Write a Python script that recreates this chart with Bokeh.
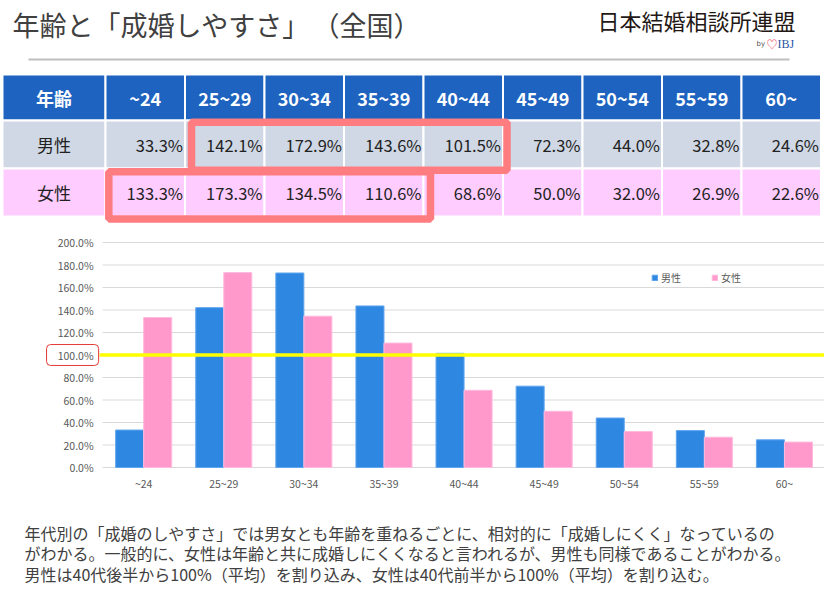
from bokeh.plotting import figure
from bokeh.models import Range1d, ColumnDataSource, PrintfTickFormatter, FixedTicker
from bokeh.transform import dodge
from bokeh.layouts import column
from bokeh.core.properties import value
from bokeh.embed import file_html
from bokeh.resources import INLINE

# ---------------- data ----------------
ages = ["~24", "25~29", "30~34", "35~39", "40~44", "45~49", "50~54", "55~59", "60~"]
male = [33.3, 142.1, 172.9, 143.6, 101.5, 72.3, 44.0, 32.8, 24.6]
female = [133.3, 173.3, 134.5, 110.6, 68.6, 50.0, 32.0, 26.9, 22.6]
series_names = ["男性", "女性"]
header_first = "年齢"
title_main = "年齢と「成婚しやすさ」"
title_sub = "（全国）"
logo_main = "日本結婚相談所連盟"
logo_by = "by"
logo_heart = "♡"
logo_ibj = "IBJ"
notes = [
    "年代別の「成婚のしやすさ」では男女とも年齢を重ねるごとに、相対的に「成婚しにくく」なっているの",
    "がわかる。一般的に、女性は年齢と共に成婚しにくくなると言われるが、男性も同様であることがわかる。",
    "男性は40代後半から100%（平均）を割り込み、女性は40代前半から100%（平均）を割り込む。",
]
y_ticks = [0, 20, 40, 60, 80, 100, 120, 140, 160, 180, 200]
reference_level = 100
male_highlight = (1, 4)     # highlighted age columns, male row
female_highlight = (0, 3)   # highlighted age columns, female row

# ---------------- style ----------------
W = 824
JP = "Noto Sans CJK JP"
BLUE_HDR = "#1e63bf"
MALE_BG = "#d0d8e5"
FEMALE_BG = "#ffccff"
HILITE = "#ff7c80"
BAR_M = "#2e88e2"
BAR_F = "#ff99cc"
TXT = "#404040"


def canvas(h, top):
    p = figure(width=W, height=h, x_range=Range1d(0, W), y_range=Range1d(top + h, top),
               x_axis_type=None, y_axis_type=None, toolbar_location=None,
               output_backend="svg", min_border=0, title=None)
    p.outline_line_color = None
    p.background_fill_color = "white"
    return p


# ---------------- header + table ----------------
top = canvas(228, 0)
top.text(x=[12], y=[24], text=[title_main], text_font=value(JP), text_font_size=value("27px"),
         text_color=TXT, text_baseline="middle", text_align="left")
top.text(x=[312], y=[24], text=[title_sub], text_font=value(JP), text_font_size=value("27px"),
         text_color=TXT, text_baseline="middle", text_align="left")
top.segment(x0=[28], y0=[59], x1=[789], y1=[59], line_color="#bfbfbf", line_width=2)
top.text(x=[795], y=[19], text=[logo_main], text_font=value(JP), text_font_size=value("22px"),
         text_color="#231815", text_baseline="middle", text_align="right")
top.text(x=[756], y=[43], text=[logo_by], text_font=value("DejaVu Sans"), text_font_size=value("7px"),
         text_color="#555555", text_baseline="middle", text_align="left")
top.text(x=[766], y=[43], text=[logo_heart], text_font=value(JP), text_font_size=value("11px"),
         text_color="#e8404f", text_baseline="middle", text_align="left")
top.text(x=[777], y=[43], text=[logo_ibj], text_font=value("Liberation Serif"), text_font_size=value("12px"),
         text_color="#2a55a5", text_baseline="middle", text_align="left")

first_l, first_r = 2, 105
col_w = 79.5
edges = [first_l, first_r] + [first_r + col_w * (i + 1) for i in range(len(ages))]
lefts = edges[:-1]
rights = edges[1:]
centers = [(a + b) / 2 for a, b in zip(lefts, rights)]

hdr = ColumnDataSource(dict(left=lefts, right=rights, xc=centers, label=[header_first] + ages))
top.quad(left="left", right="right", top=74, bottom=120, source=hdr,
         fill_color=BLUE_HDR, line_color="white", line_width=2)
top.text(x="xc", y=97, text="label", source=hdr, text_font=value(JP), text_font_size=value("18px"),
         text_font_style="bold", text_color="white", text_align="center", text_baseline="middle")

rows = [(series_names[0], male, MALE_BG, 120, 168), (series_names[1], female, FEMALE_BG, 168, 216)]
for name, vals, bg, y_top, y_bot in rows:
    src = ColumnDataSource(dict(left=lefts, right=rights))
    top.quad(left="left", right="right", top=y_top, bottom=y_bot, source=src,
             fill_color=bg, line_color="white", line_width=2)
    ym = (y_top + y_bot) / 2
    top.text(x=[centers[0]], y=[ym], text=[name], text_font=value(JP), text_font_size=value("17px"),
             text_color="#222222", text_align="center", text_baseline="middle")
    vsrc = ColumnDataSource(dict(x=[r - 2 for r in rights[1:]], label=[f"{v:.1f}%" for v in vals]))
    top.text(x="x", y=ym, text="label", source=vsrc, text_font=value(JP), text_font_size=value("16.5px"),
             text_color="#222222", text_align="right", text_baseline="middle")

# highlight frames
a, b = male_highlight
top.quad(left=[lefts[a + 1] + 6.5], right=[rights[b + 1] + 4], top=[121.7], bottom=[169.7],
         fill_alpha=0, line_color=HILITE, line_width=7.5)
a, b = female_highlight
top.quad(left=[lefts[a + 1] + 3.3], right=[rights[b + 1] + 7], top=[171.2], bottom=[218.5],
         fill_alpha=0, line_color=HILITE, line_width=7.5)

# ---------------- bar chart ----------------
px_per_unit = 1.125          # 225 px for 200 %
pad_top, pad_bot = 8, 6      # px of room for the end tick labels
xi = list(range(len(ages)))
src = ColumnDataSource(dict(xi=xi, age=ages, male=male, female=female))
ch = figure(width=W, height=267, x_range=Range1d(-1.7875, 8.5),
            y_range=Range1d(-pad_bot / px_per_unit, 200 + pad_top / px_per_unit),
            toolbar_location=None, output_backend="svg", title=None,
            min_border_left=0, min_border_right=0,
            min_border_top=14 - pad_top, min_border_bottom=28 - pad_bot)
ch.outline_line_color = None
ch.xgrid.visible = False
ch.ygrid.visible = False

grid_lo, grid_hi = -0.5125, 8.5
ch.segment(x0=grid_lo, x1=grid_hi, y0=y_ticks, y1=y_ticks, line_color="#d9d9d9", line_width=1)

ch.vbar(x=dodge("xi", -0.175), top="male", width=0.35, source=src,
        fill_color=BAR_M, line_color="#62a6ee", line_width=1, legend_label=series_names[0])
ch.vbar(x=dodge("xi", 0.175), top="female", width=0.35, source=src,
        fill_color=BAR_F, line_color="#ffbade", line_width=1, legend_label=series_names[1])

ch.segment(x0=[-0.55], x1=[8.5], y0=[reference_level], y1=[reference_level],
           line_color="#ffff00", line_width=3.5)
ch.quad(left=[-1.2125], right=[-0.5625], bottom=[reference_level - 9.3], top=[reference_level + 9.3],
        fill_alpha=0, line_color="#e53935", line_width=1, border_radius=4)

ch.yaxis.fixed_location = -0.5
ch.yaxis.ticker = FixedTicker(ticks=y_ticks)
ch.yaxis.formatter = PrintfTickFormatter(format="%.1f%%")
ch.yaxis.axis_line_color = None
ch.yaxis.major_tick_line_color = None
ch.yaxis.minor_tick_line_color = None
ch.yaxis.major_tick_out = 0
ch.yaxis.major_label_standoff = 10
ch.yaxis.major_label_text_font = JP
ch.yaxis.major_label_text_font_size = "10.5px"
ch.yaxis.major_label_text_color = "#595959"

ch.xaxis.ticker = FixedTicker(ticks=xi)
ch.xaxis.major_label_overrides = {i: a for i, a in zip(xi, ages)}
ch.xaxis.axis_line_color = None
ch.xaxis.major_tick_line_color = None
ch.xaxis.minor_tick_line_color = None
ch.xaxis.major_tick_out = 0
ch.xaxis.major_label_standoff = 2
ch.xaxis.major_label_text_font = JP
ch.xaxis.major_label_text_font_size = "10.5px"
ch.xaxis.major_label_text_color = "#595959"

lg = ch.legend[0]
lg.location = (651, 182 + pad_bot)
lg.orientation = "horizontal"
lg.border_line_alpha = 0
lg.background_fill_alpha = 0
lg.padding = 0
lg.margin = 0
lg.spacing = 30
lg.glyph_width = 7
lg.glyph_height = 7
lg.label_standoff = 3
lg.label_height = 10
lg.label_text_font = JP
lg.label_text_font_size = "10px"
lg.label_text_color = "#595959"

# ---------------- notes ----------------
bot = canvas(100, 495)
bot.text(x=[24, 24, 24], y=[532, 552, 573], text=notes, text_font=value(JP),
         text_font_size=value("16px"), text_color=TXT, text_align="left", text_baseline="middle")

layout = column(top, ch, bot, spacing=0)
open("out.html", "w").write(file_html(layout, INLINE))
